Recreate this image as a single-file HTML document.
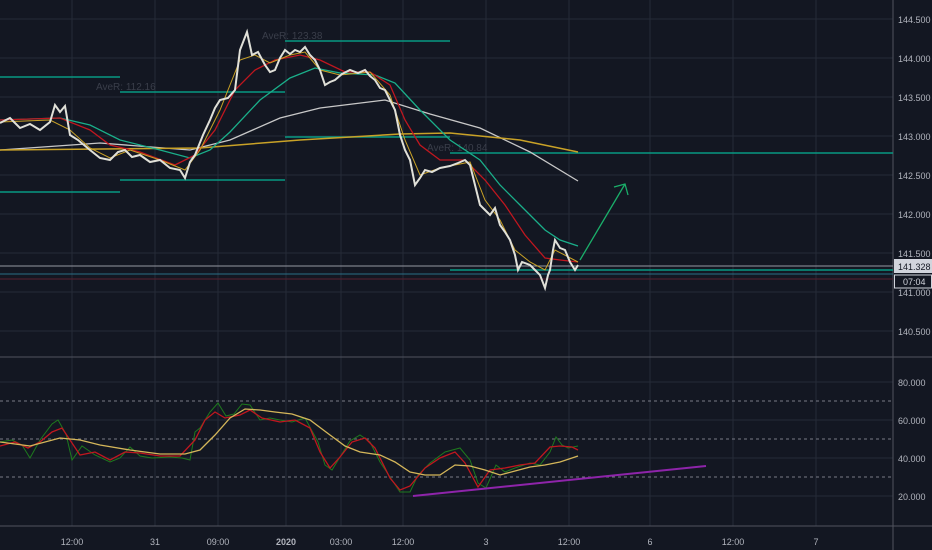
<!DOCTYPE html>
<html><head><style>
html,body{margin:0;padding:0;background:#131722;}
svg{display:block;font-family:"Liberation Sans",sans-serif;}
</style></head><body>
<svg width="932" height="550" viewBox="0 0 932 550" xmlns="http://www.w3.org/2000/svg">
<rect width="932" height="550" fill="#131722"/>
<g stroke="#262b38" stroke-width="1">
<line x1="72" y1="0" x2="72" y2="526"/><line x1="155" y1="0" x2="155" y2="526"/><line x1="218" y1="0" x2="218" y2="526"/><line x1="286" y1="0" x2="286" y2="526"/><line x1="341" y1="0" x2="341" y2="526"/><line x1="403" y1="0" x2="403" y2="526"/><line x1="486" y1="0" x2="486" y2="526"/><line x1="569" y1="0" x2="569" y2="526"/><line x1="650" y1="0" x2="650" y2="526"/><line x1="733" y1="0" x2="733" y2="526"/><line x1="816" y1="0" x2="816" y2="526"/>
<line x1="0" y1="19" x2="893" y2="19"/><line x1="0" y1="58" x2="893" y2="58"/><line x1="0" y1="97" x2="893" y2="97"/><line x1="0" y1="136" x2="893" y2="136"/><line x1="0" y1="175" x2="893" y2="175"/><line x1="0" y1="214" x2="893" y2="214"/><line x1="0" y1="253" x2="893" y2="253"/><line x1="0" y1="292" x2="893" y2="292"/><line x1="0" y1="331" x2="893" y2="331"/>
<line x1="0" y1="382" x2="893" y2="382"/><line x1="0" y1="420" x2="893" y2="420"/><line x1="0" y1="458" x2="893" y2="458"/><line x1="0" y1="496" x2="893" y2="496"/>
</g>
<line x1="0" y1="357" x2="932" y2="357" stroke="#50535e"/>
<line x1="0" y1="526" x2="932" y2="526" stroke="#50535e"/>
<line x1="893" y1="0" x2="893" y2="550" stroke="#50535e"/>
<g stroke="#787b86" stroke-dasharray="3,3"><line x1="0" y1="401" x2="893" y2="401"/><line x1="0" y1="439" x2="893" y2="439"/><line x1="0" y1="477" x2="893" y2="477"/></g>
<g stroke="#089981" stroke-width="1.5">
<line x1="0" y1="77" x2="120" y2="77"/><line x1="120" y1="92" x2="285" y2="92"/><line x1="285" y1="41" x2="450" y2="41"/>
<line x1="0" y1="192" x2="120" y2="192"/><line x1="120" y1="180" x2="285" y2="180"/><line x1="285" y1="137" x2="450" y2="137"/>
<line x1="450" y1="153" x2="893" y2="153"/><line x1="450" y1="270" x2="893" y2="270"/>
</g>
<line x1="0" y1="266" x2="893" y2="266" stroke="#9598a1"/>
<line x1="0" y1="274" x2="893" y2="274" stroke="#2a6f86"/>
<line x1="0" y1="279" x2="893" y2="279" stroke="#5a2030"/>
<g fill="#3a3e4a" font-size="10"><text x="96" y="90">AveR: 112.16</text><text x="262" y="39">AveR: 123.38</text><text x="427" y="151">AveR: 140.84</text></g>
<polyline fill="none" stroke="#c8c8c8" stroke-width="1.3" points="0,150 100,143 190,150 230,140 280,118 320,108 385,100 430,114 480,128 530,152 578,181"/>
<polyline fill="none" stroke="#c9a227" stroke-width="1.5" points="0,150 200,148 300,140 400,134 450,133 520,140 578,152"/>
<polyline fill="none" stroke="#1aaf8a" stroke-width="1.3" points="0,120 60,118 90,125 120,140 160,150 190,158 210,150 230,132 260,100 290,78 315,68 340,73 375,75 395,83 420,110 450,140 480,160 500,185 520,205 545,230 560,240 578,246"/>
<polyline fill="none" stroke="#c0171f" stroke-width="1.3" points="0,120 60,118 90,130 110,145 140,152 175,165 195,155 215,130 235,90 255,70 275,60 300,55 320,60 345,72 370,72 390,85 405,120 420,145 440,160 465,160 485,180 505,205 525,235 545,258 560,260 578,262"/>
<polyline fill="none" stroke="#c9a227" stroke-width="1" points="0,122 50,120 70,130 90,148 110,158 130,150 160,160 185,170 200,150 220,110 240,60 255,55 270,63 290,55 305,52 320,70 340,75 370,72 390,95 405,140 420,175 440,168 470,162 485,200 500,220 515,250 530,262 545,270 555,250 578,262"/>
<polyline fill="none" stroke="#e0e0d8" stroke-width="2" points="0,123 10,118 20,128 30,124 40,130 50,122 55,105 60,112 65,106 70,135 78,140 90,150 100,158 110,160 118,152 125,150 132,157 140,155 150,162 160,160 170,168 180,170 185,178 190,162 195,155 203,135 210,120 215,108 220,100 228,98 235,90 240,50 247,32 252,55 258,52 265,65 270,72 275,70 280,58 285,50 290,54 295,50 300,52 305,47 310,55 315,60 320,70 325,85 330,82 335,80 342,74 350,70 358,73 365,70 370,76 375,80 380,88 385,90 390,100 395,110 400,135 405,150 410,160 415,185 420,178 425,170 432,172 440,168 450,166 458,163 465,160 470,165 475,185 480,205 485,210 490,215 495,208 500,225 505,232 510,240 515,255 518,270 522,262 530,265 535,270 540,275 545,288 548,275 550,270 553,250 555,240 560,248 565,250 570,262 575,270 578,265"/>
<g stroke="#1aaf6a" stroke-width="1.3" fill="none"><line x1="580" y1="260" x2="625" y2="184"/><polyline points="614,187 625,184 628,195"/></g>
<polyline fill="none" stroke="#1e7a1e" stroke-width="1" points="0,442 12,440 22,445 30,458 40,440 52,424 58,420 66,434 72,460 82,446 95,455 110,462 120,458 130,447 140,456 152,458 170,457 182,458 190,460 195,432 200,428 210,412 218,403 226,416 234,414 242,404 250,405 260,420 270,418 280,420 292,422 305,418 318,442 325,465 332,470 340,457 350,441 360,435 370,442 380,462 392,480 400,492 410,492 418,475 430,463 445,452 460,448 470,460 478,483 486,488 496,465 505,472 515,468 530,463 540,465 550,452 556,437 562,445 568,448 578,446"/>
<polyline fill="none" stroke="#c0171f" stroke-width="1.3" points="0,446 15,442 28,448 40,442 52,432 62,428 70,440 80,455 95,452 110,460 125,452 140,453 160,456 180,456 195,440 205,420 215,412 225,418 240,415 250,410 262,418 280,422 295,420 310,428 320,452 330,468 340,457 352,442 365,438 375,448 390,478 400,490 410,486 425,468 440,458 455,452 465,463 478,487 490,470 505,468 520,465 535,463 550,447 560,446 572,447 578,450"/>
<polyline fill="none" stroke="#d4b65a" stroke-width="1.3" points="0,442 30,446 60,438 80,440 100,445 130,450 160,454 185,454 200,450 215,435 230,418 245,409 260,410 275,412 292,414 310,420 330,435 345,446 360,452 380,455 395,462 410,472 425,475 440,475 455,465 470,466 485,470 500,475 515,471 530,467 545,465 560,462 578,456"/>
<line x1="413" y1="496" x2="706" y2="466" stroke="#8e24aa" stroke-width="2"/>
<g fill="#b2b5be" font-size="9">
<text x="898" y="23">144.500</text><text x="898" y="62">144.000</text><text x="898" y="101">143.500</text><text x="898" y="140">143.000</text><text x="898" y="179">142.500</text><text x="898" y="218">142.000</text><text x="898" y="257">141.500</text><text x="898" y="296">141.000</text><text x="898" y="335">140.500</text>
<text x="898" y="386">80.000</text><text x="898" y="424">60.000</text><text x="898" y="462">40.000</text><text x="898" y="500">20.000</text>
</g>
<rect x="894" y="259" width="38" height="14" fill="#d1d4dc"/><text x="898" y="270" font-size="9" fill="#131722">141.328</text>
<rect x="894.5" y="275" width="37" height="13" fill="#131722" stroke="#d1d4dc"/><text x="903" y="285" font-size="9" fill="#d1d4dc">07:04</text>
<g fill="#b2b5be" font-size="9" text-anchor="middle">
<text x="72" y="545">12:00</text><text x="155" y="545">31</text><text x="218" y="545">09:00</text><text x="286" y="545" font-weight="bold">2020</text><text x="341" y="545">03:00</text><text x="403" y="545">12:00</text><text x="486" y="545">3</text><text x="569" y="545">12:00</text><text x="650" y="545">6</text><text x="733" y="545">12:00</text><text x="816" y="545">7</text>
</g>
</svg>
</body></html>
